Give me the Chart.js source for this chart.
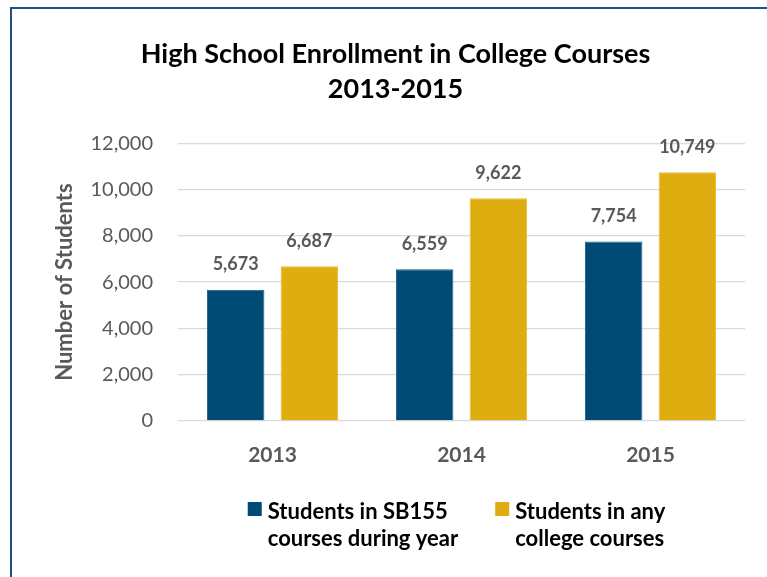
<!DOCTYPE html>
<html>
<head>
<meta charset="utf-8">
<script src="https://cdn.jsdelivr.net/npm/chart.js@4.4.1/dist/chart.umd.min.js"></script>
<style>
  body { margin: 0; background: #fff; }
  #mycanvas { display: block; }
</style>
</head>
<body>
<canvas id="mycanvas" width="767" height="577"></canvas>
<script>
var years = ["2013", "2014", "2015"];
var sb155 = [5673, 6559, 7754];
var anyCollege = [6687, 9622, 10749];
var legendLines = [["Students in SB155", "courses during year"], ["Students in any", "college courses"]];
var yTicks = [0, 2000, 4000, 6000, 8000, 10000, 12000];

var gray = "#595959";
var fontName = "Lato, 'Liberation Sans', sans-serif";

// frame line at left and top, like the source slide
var framePlugin = {
  id: "frame",
  beforeDraw: function(chart) {
    var c = chart.ctx;
    c.save();
    c.fillStyle = "#fff";
    c.fillRect(0, 0, chart.width, chart.height);
    c.strokeStyle = "#1F5283";
    c.lineWidth = 2;
    c.beginPath();
    c.moveTo(11, chart.height);
    c.lineTo(11, 8);
    c.lineTo(chart.width, 8);
    c.stroke();
    c.restore();
  }
};

// value labels above each bar
var valuePlugin = {
  id: "values",
  afterDatasetsDraw: function(chart) {
    var c = chart.ctx;
    c.save();
    c.font = "bold 18px " + fontName;
    c.fillStyle = gray;
    c.textAlign = "center";
    c.textBaseline = "middle";
    chart.data.datasets.forEach(function(ds, i) {
      chart.getDatasetMeta(i).data.forEach(function(bar, j) {
        c.fillText(ds.data[j].toLocaleString("en-US"), bar.x, bar.y - 25);
      });
    });
    c.restore();
  }
};

// two-line legend under the axis
var legendPlugin = {
  id: "twoLineLegend",
  afterDraw: function(chart) {
    var c = chart.ctx;
    c.save();
    c.font = "bold 22px " + fontName;
    c.textBaseline = "middle";
    c.textAlign = "left";
    var widths = legendLines.map(function(lines) {
      return 20 + Math.max.apply(null, lines.map(function(t) { return c.measureText(t).width; }));
    });
    var gap = 37;
    var total = widths[0] + gap + widths[1];
    var x = (chart.chartArea.left + chart.chartArea.right) / 2 - 5 - total / 2;
    var y = 512;
    chart.data.datasets.forEach(function(ds, i) {
      c.fillStyle = ds.backgroundColor;
      c.fillRect(x, y - 10, 14, 14);
      c.fillStyle = "#000";
      legendLines[i].forEach(function(t, k) {
        c.fillText(t, x + 20, y + k * 27);
      });
      x += widths[i] + gap;
    });
    c.restore();
  }
};

var ctx = document.getElementById("mycanvas");
var chart = new Chart(ctx, {
  type: "bar",
  data: {
    labels: years,
    datasets: [
      {
        label: legendLines[0].join(" "),
        data: sb155,
        backgroundColor: "#004B75",
        borderColor: "#1F5A85",
        borderWidth: 1,
        categoryPercentage: 0.78,
        barPercentage: 0.78
      },
      {
        label: legendLines[1].join(" "),
        data: anyCollege,
        backgroundColor: "#DEAE10",
        borderColor: "#E6BA30",
        borderWidth: 1,
        categoryPercentage: 0.78,
        barPercentage: 0.78
      }
    ]
  },
  options: {
    responsive: false,
    animation: false,
    devicePixelRatio: 1,
    layout: { padding: { left: 46, right: 22, top: 0, bottom: 100 } },
    plugins: {
      legend: { display: false },
      tooltip: { enabled: false },
      title: {
        display: true,
        text: ["High School Enrollment in College Courses", "2013-2015"],
        color: "#000",
        font: { family: fontName, size: 27, weight: "bold", lineHeight: 1.3 },
        padding: { top: 37, bottom: 36 }
      }
    },
    scales: {
      x: {
        grid: { display: false, drawTicks: false },
        border: { display: false },
        ticks: { color: gray, font: { family: fontName, size: 21, weight: "bold" }, padding: 22 },
        afterFit: function(s) { s.height = 56; }
      },
      y: {
        min: 0,
        max: 12000,
        afterBuildTicks: function(s) { s.ticks = yTicks.map(function(v) { return { value: v }; }); },
        grid: { color: "#D9D9D9", lineWidth: 1.3, drawTicks: false },
        border: { display: false },
        ticks: {
          color: gray,
          font: { family: fontName, size: 20 },
          padding: 25,
          callback: function(v) { return v.toLocaleString("en-US"); }
        },
        title: {
          display: true,
          text: "Number of Students",
          color: gray,
          font: { family: fontName, size: 22, weight: "bold" },
          padding: { top: 6, bottom: 0 }
        },
        afterFit: function(s) { s.width = 132; }
      }
    }
  },
  plugins: [framePlugin, valuePlugin, legendPlugin]
});
</script>
</body>
</html>
